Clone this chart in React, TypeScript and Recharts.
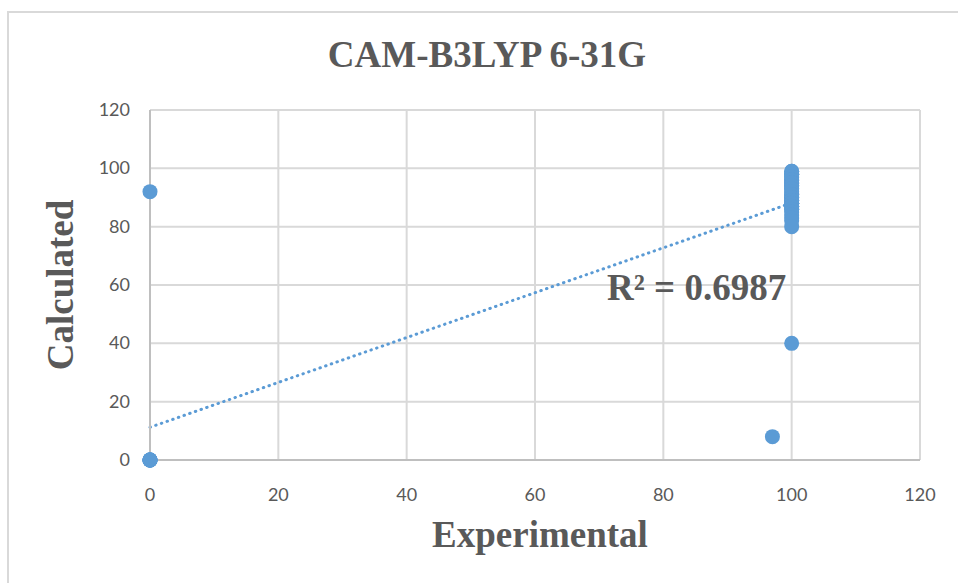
import React from "react";
import {
  ScatterChart,
  Scatter,
  XAxis,
  YAxis,
  CartesianGrid,
  ReferenceLine,
} from "recharts";

// Experimental vs calculated values
const zeroGroupCalc = [92, 0, 0, 0, 0, 0, 0, 0];
const fullGroupCalc = [
  99, 99, 98, 98, 98, 97, 97, 96, 96, 96, 95, 95, 95, 94, 94, 94, 93, 93, 92,
  91, 91, 90, 90, 90, 89, 89, 89, 88, 88, 88, 88, 87, 87, 87, 86, 86, 85, 84,
  83, 82, 80, 40,
];
const otherExp = [97];
const otherCalc = [8];

const xTicks = [0, 20, 40, 60, 80, 100, 120];
const yTicks = [0, 20, 40, 60, 80, 100, 120];

const points = [
  ...zeroGroupCalc.map((y) => ({ x: 0, y })),
  ...fullGroupCalc.map((y) => ({ x: 100, y })),
  ...otherExp.map((x, i) => ({ x, y: otherCalc[i] })),
];

// least-squares linear trendline
function linearFit(pts: { x: number; y: number }[]) {
  const n = pts.length;
  const mx = pts.reduce((s, p) => s + p.x, 0) / n;
  const my = pts.reduce((s, p) => s + p.y, 0) / n;
  let sxx = 0, sxy = 0;
  pts.forEach((p) => {
    sxx += (p.x - mx) ** 2;
    sxy += (p.x - mx) * (p.y - my);
  });
  const slope = sxy / sxx;
  return { slope, intercept: my - slope * mx };
}

const fit = linearFit(points);
const trendStartX = 0;
const trendEndX = 100;

const GREY = "#595959";
const BLUE = "#5b9bd5";

const XTick = (props: any) => {
  const { x, y, payload } = props;
  return (
    <text x={x} y={y + 33} textAnchor="middle" fontFamily="Lato" fontSize={18} fill={GREY}>
      {payload.value}
    </text>
  );
};

const YTick = (props: any) => {
  const { y, payload } = props;
  return (
    <text x={130} y={y + 6} textAnchor="end" fontFamily="Lato" fontSize={18} fill={GREY}>
      {payload.value}
    </text>
  );
};

const Dot = (props: any) => {
  const { cx, cy } = props;
  return <circle cx={cx} cy={cy} r={7.5} fill={BLUE} />;
};

export default function App() {
  const serif = "'Liberation Serif', 'Times New Roman', serif";
  return (
    <div style={{ position: "absolute", left: 0, top: 0, width: 958, height: 583, background: "#fff" }}>
      <div
        style={{
          position: "absolute",
          left: 7,
          top: 11,
          width: 958,
          height: 583,
          borderTop: "2px solid #d9d9d9",
          borderLeft: "2px solid #d9d9d9",
          boxSizing: "border-box",
        }}
      />
      <ScatterChart
        width={958}
        height={583}
        margin={{ top: 110, right: 38, left: 0, bottom: 0 }}
        style={{ position: "absolute", left: 0, top: 0 }}
      >
        <CartesianGrid stroke="#d9d9d9" strokeWidth={2} />
        <XAxis
          type="number"
          dataKey="x"
          domain={[0, 120]}
          ticks={xTicks}
          height={123}
          tickLine={false}
          axisLine={{ stroke: "#bfbfbf", strokeWidth: 2 }}
          tick={<XTick />}
        />
        <YAxis
          type="number"
          dataKey="y"
          domain={[0, 120]}
          ticks={yTicks}
          width={150}
          tickLine={false}
          axisLine={{ stroke: "#bfbfbf", strokeWidth: 2 }}
          tick={<YTick />}
        />
        <Scatter data={points} shape={<Dot />} isAnimationActive={false} />
        <ReferenceLine
          segment={[
            { x: trendStartX, y: fit.intercept + fit.slope * trendStartX },
            { x: trendEndX, y: fit.intercept + fit.slope * trendEndX },
          ]}
          stroke={BLUE}
          strokeWidth={3}
          strokeDasharray="0.5 5.5"
          strokeLinecap="round"
          ifOverflow="visible"
        />
      </ScatterChart>
      <svg
        width={958}
        height={583}
        style={{ position: "absolute", left: 0, top: 0, pointerEvents: "none" }}
      >
        <text x={487} y={67} textAnchor="middle" fontFamily={serif} fontWeight="bold" fontSize={37} fill={GREY}>
          CAM-B3LYP 6-31G
        </text>
        <text x={540} y={547} textAnchor="middle" fontFamily={serif} fontWeight="bold" fontSize={37} fill={GREY}>
          Experimental
        </text>
        <text
          x={0}
          y={0}
          transform="translate(73 285) rotate(-90)"
          textAnchor="middle"
          fontFamily={serif}
          fontWeight="bold"
          fontSize={37}
          fill={GREY}
        >
          Calculated
        </text>
        <text x={607} y={300} fontFamily={serif} fontWeight="bold" fontSize={37} fill={GREY}>
          R² = 0.6987
        </text>
      </svg>
    </div>
  );
}
